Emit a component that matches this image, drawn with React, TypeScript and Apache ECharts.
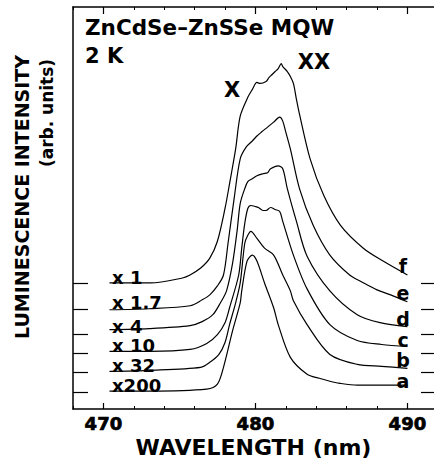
import React, { useEffect, useRef } from "react";
import * as echarts from "echarts";

// Wavelength (nm) and intensity (arb. units, offset per trace)
const waveF = [470.4, 473.1, 475.2, 475.7, 476.4, 477.0, 477.5, 478.0, 478.3, 478.7, 479.0, 479.5, 479.8, 480.1, 480.3, 480.7, 480.9, 481.1, 481.3, 481.5, 481.7, 481.8, 482.1, 482.3, 482.5, 482.7, 482.9, 483.6, 484.5, 485.6, 487.1, 488.4, 490.0];
const valF = [127, 127, 132, 135, 142, 152, 169, 202, 227, 262, 295, 314, 322, 329, 328, 330, 334, 337, 340, 343, 348, 345, 340, 335, 328, 312, 297, 252, 215, 185, 162, 149, 135];

const waveE = [470.4, 473.0, 475.7, 476.5, 477.0, 477.5, 477.9, 478.2, 478.6, 479.0, 479.4, 479.8, 480.1, 480.4, 480.8, 481.2, 481.6, 481.8, 482.0, 482.3, 482.9, 483.8, 484.9, 486.2, 487.0, 488.0, 488.9, 490.0];
const valE = [100, 101, 104, 110, 115, 124, 135, 167, 212, 252, 264, 270, 275, 279, 284, 289, 294, 290, 279, 262, 222, 185, 155, 135, 128, 120, 115, 108];

const waveD = [470.4, 473.0, 475.7, 476.5, 477.2, 477.7, 478.1, 478.5, 478.8, 479.0, 479.3, 479.5, 479.8, 480.1, 480.5, 480.8, 481.0, 481.5, 481.8, 482.1, 482.7, 483.4, 484.9, 486.7, 488.2, 490.0];
const valD = [80, 81, 84, 88, 95, 107, 119, 147, 180, 207, 222, 229, 232, 235, 237, 238, 242, 245, 242, 222, 189, 154, 119, 95, 87, 83];

const waveC = [470.4, 473.0, 475.7, 476.8, 477.5, 478.0, 478.3, 478.9, 479.1, 479.3, 479.5, 479.7, 480.0, 480.2, 480.5, 480.7, 481.0, 481.3, 481.6, 481.8, 482.5, 483.4, 484.9, 486.7, 488.3, 490.0];
const valC = [58, 58, 60, 66, 75, 87, 102, 135, 162, 187, 202, 205, 204, 203, 200, 200, 203, 201, 199, 189, 155, 121, 85, 69, 65, 63];

const waveB = [470.4, 473.0, 476.4, 477.0, 477.6, 478.0, 478.3, 478.7, 479.0, 479.3, 479.5, 479.7, 480.1, 480.6, 481.2, 481.8, 482.3, 482.5, 483.4, 484.9, 486.7, 488.3, 490.0];
const valB = [38, 39, 42, 47, 55, 67, 85, 107, 127, 167, 175, 179, 172, 162, 155, 135, 119, 109, 85, 55, 45, 43, 41];

const waveA = [470.4, 473.0, 476.8, 477.5, 477.9, 478.5, 479.0, 479.1, 479.45, 479.8, 480.1, 480.6, 481.2, 481.5, 482.3, 483.4, 484.2, 484.9, 485.5, 486.7, 488.0, 490.0];
const valA = [18, 18, 20, 25, 42, 79, 107, 119, 149, 155, 149, 127, 102, 85, 52, 35, 31, 28, 26, 24, 24, 24];

const baselines = [17, 37.5, 56.5, 75.5, 100, 126.5];
const majorTicks = [470, 480, 490];
const factorLabels = ["x 1", "x 1.7", "x 4", "x 10", "x 32", "x200"];
const traceLetters = ["f", "e", "d", "c", "b", "a"];

const FONT = "DejaVu Sans";

const zip = (w: number[], v: number[]) => w.map((x, i) => [x, v[i]]);

export default function App() {
  const ref = useRef<HTMLDivElement>(null);
  useEffect(() => {
    if (!ref.current) return;
    const chart = echarts.init(ref.current, null, { renderer: "svg" });
    const gl = 73, gt = 7, gw = 361, gh = 405;
    const xBase = {
      type: "value" as const,
      min: 468,
      max: 491.75,
      splitLine: { show: false },
    };
    const lineStyle = { color: "#000", width: 1.5 };
    const traces = [
      zip(waveF, valF), zip(waveE, valE), zip(waveD, valD),
      zip(waveC, valC), zip(waveB, valB), zip(waveA, valA),
    ];
    const labelY = [277, 302, 326, 345, 365, 385];
    const letterY = [266, 293, 319, 340, 360, 381];
    const graphics: any[] = [
      { type: "text", x: 85, y: 27, style: { text: "ZnCdSe–ZnSSe MQW", font: `bold 21.5px "${FONT}"`, fill: "#000", verticalAlign: "middle" } },
      { type: "text", x: 85, y: 56, style: { text: "2 K", font: `bold 21px "${FONT}"`, fill: "#000", verticalAlign: "middle" } },
      { type: "text", x: 232, y: 90, style: { text: "X", font: `bold 21px "${FONT}"`, fill: "#000", align: "center", verticalAlign: "middle" } },
      { type: "text", x: 314, y: 62, style: { text: "XX", font: `bold 21px "${FONT}"`, fill: "#000", align: "center", verticalAlign: "middle" } },
      { type: "text", x: 22, y: 197, rotation: Math.PI / 2, style: { text: "LUMINESCENCE INTENSITY", font: `bold 19px "${FONT}"`, fill: "#000", align: "center", verticalAlign: "middle" } },
      { type: "text", x: 47, y: 113, rotation: Math.PI / 2, style: { text: "(arb. units)", font: `bold 17px "${FONT}"`, fill: "#000", align: "center", verticalAlign: "middle" } },
    ];
    factorLabels.forEach((t, i) => {
      graphics.push({ type: "text", x: 112, y: labelY[i], style: { text: t, font: `bold 18px "${FONT}"`, fill: "#000", verticalAlign: "middle" } });
    });
    traceLetters.forEach((t, i) => {
      graphics.push({ type: "text", x: 403, y: letterY[i], style: { text: t, font: `bold 19px "${FONT}"`, fill: "#000", align: "center", verticalAlign: "middle" } });
    });
    chart.setOption({
      animation: false,
      backgroundColor: "#fff",
      grid: { left: gl, top: gt, width: gw, height: gh },
      xAxis: [
        {
          ...xBase,
          position: "bottom",
          axisLine: { show: true, lineStyle },
          axisTick: { show: true, inside: true, length: 6, customValues: majorTicks, lineStyle: { color: "#000", width: 1.2 } },
          axisLabel: { show: false },
          name: "WAVELENGTH (nm)",
          nameLocation: "middle",
          nameGap: 27,
          nameTextStyle: { color: "#000", fontFamily: FONT, fontWeight: "bold", fontSize: 22 },
        },
        {
          ...xBase,
          position: "bottom",
          interval: 2,
          axisLine: { show: false },
          axisTick: { show: true, inside: true, length: 3, lineStyle: { color: "#000", width: 1 } },
          axisLabel: {
            show: true,
            margin: 5,
            showMinLabel: true,
            showMaxLabel: false,
            formatter: (v: number) => (majorTicks.includes(Math.round(v * 100) / 100) ? String(v) : ""),
            color: "#000",
            fontFamily: FONT,
            fontWeight: "bold",
            fontSize: 18,
            textBorderColor: "#000",
            textBorderWidth: 0.7,
          },
        },
        {
          ...xBase,
          position: "top",
          axisLine: { show: true, lineStyle },
          axisTick: { show: true, inside: true, length: 7, customValues: majorTicks, lineStyle: { color: "#000", width: 1.2 } },
          axisLabel: { show: false },
        },
        {
          ...xBase,
          position: "top",
          interval: 2,
          axisLine: { show: false },
          axisTick: { show: true, inside: true, length: 3, lineStyle: { color: "#000", width: 1 } },
          axisLabel: { show: false },
        },
      ],
      yAxis: [
        {
          type: "value",
          min: 0,
          max: 405,
          position: "left",
          splitLine: { show: false },
          axisLine: { show: true, lineStyle },
          axisTick: { show: true, inside: true, length: 15, customValues: baselines, lineStyle: { color: "#000", width: 1.2 } },
          axisLabel: { show: false },
        },
        {
          type: "value",
          min: 0,
          max: 405,
          position: "right",
          splitLine: { show: false },
          axisLine: { show: false },
          axisTick: { show: true, inside: true, length: 13, customValues: baselines, lineStyle: { color: "#000", width: 1.2 } },
          axisLabel: { show: false },
        },
      ],
      series: traces.map((d, i) => ({
        type: "line",
        name: traceLetters[i],
        xAxisIndex: 0,
        yAxisIndex: 0,
        data: d,
        showSymbol: false,
        smooth: 0.3,
        lineStyle: { color: "#000", width: 1.2 },
      })),
      graphic: graphics,
    });
    return () => chart.dispose();
  }, []);
  return <div ref={ref} style={{ position: "absolute", left: 0, top: 0, width: 434, height: 463 }} />;
}
